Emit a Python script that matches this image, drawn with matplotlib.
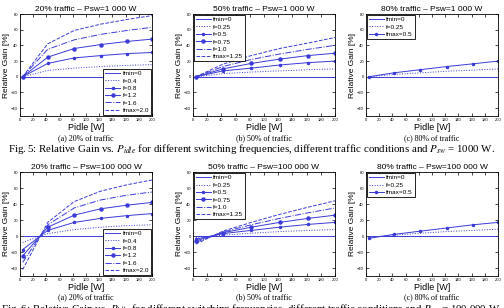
import matplotlib
matplotlib.use('Agg')
import matplotlib.pyplot as plt
import numpy as np

plt.rcParams['font.family'] = ['Liberation Sans', 'DejaVu Sans']
plt.rcParams['mathtext.fontset'] = 'stix'

# Pidle sample points [W]
pidle = [4, 42, 82, 122, 162, 200]

# Psw = 1 000 W
g20_1k = {
    'fmin=0':   [0, 0, 0, 0, 0, 0],
    'f=0.4':    [0, 8, 11, 13, 14.5, 15.5],
    'f=0.8':    [0, 17, 24, 27, 29.5, 31],
    'f=1.2':    [0, 25, 36, 41, 45, 48],
    'f=1.6':    [0, 35, 47, 54, 59, 63],
    'fmax=2.0': [0, 42, 59, 67, 73, 78],
}
g50_1k = {
    'fmin=0':    [0, 0, 0, 0, 0, 0],
    'f=0.25':    [0, 4, 6, 7.5, 9, 10],
    'f=0.5':     [0, 7.5, 11, 15, 18, 20],
    'f=0.75':    [0, 10, 17, 22.5, 27, 30],
    'f=1.0':     [0, 13, 22, 29, 35, 40],
    'fmax=1.25': [0, 16, 27, 36, 43, 50],
}
g80_1k = {
    'fmin=0':   [0, 0, 0, 0, 0, 0],
    'f=0.25':   [0, 3, 5, 7, 8.5, 10],
    'fmax=0.5': [0, 5, 9, 13, 16.5, 20],
}

# Psw = 100 000 W
g20_100k = {
    'fmin=0':   [0, 0, 0, 0, 0, 0],
    'f=0.4':    [-8, 3, 8, 11, 13, 14],
    'f=0.8':    [-17, 7, 17, 22, 25.5, 28],
    'f=1.2':    [-25, 11, 26, 34, 38.5, 42],
    'f=1.6':    [-33, 14, 35, 45, 51, 55],
    'fmax=2.0': [-42, 17, 43, 56, 64, 70],
}
g50_100k = {
    'fmin=0':    [0, 0, 0, 0, 0, 0],
    'f=0.25':    [-2, 1, 3.5, 5.5, 7, 8],
    'f=0.5':     [-4, 3, 7, 11, 14.5, 17],
    'f=0.75':    [-6, 4, 11, 17, 22, 26],
    'f=1.0':     [-8, 5, 14, 22, 29, 35],
    'fmax=1.25': [-10, 6, 17, 27, 36, 44],
}
g80_100k = {
    'fmin=0':   [0, 0, 0, 0, 0, 0],
    'f=0.25':   [-1.5, 1, 3.5, 5.5, 7, 8.5],
    'fmax=0.5': [-3, 2, 6, 10, 14, 17],
}

# line styles in the order the curves appear
styles6 = [dict(ls='-', marker=None), dict(ls=':', marker=None),
           dict(ls='-', marker='.', ms=3), dict(ls='-', marker='o', ms=2.2),
           dict(ls='-.', marker=None), dict(ls='--', marker=None)]
styles3 = [dict(ls='-', marker=None), dict(ls=':', marker=None),
           dict(ls='-', marker='.', ms=3)]

blue = '#3a3ad8'

W, H = 504, 308
fig = plt.figure(figsize=(W / 100, H / 100), dpi=100)


def px_axes(x0, x1, y0, y1):
    return fig.add_axes([x0 / W, 1 - y1 / H, (x1 - x0) / W, (y1 - y0) / H])


def panel(ax, data, title, loc):
    st = styles6 if len(data) == 6 else styles3
    for (name, vals), s in zip(data.items(), st):
        ax.plot(pidle, vals, color=blue, lw=0.7, label=name, **s)
    ax.set_xlim(0, 200)
    ax.set_ylim(-50, 80)
    ax.set_xticks(np.arange(0, 201, 20))
    ax.set_yticks(np.arange(-40, 81, 20))
    ax.tick_params(direction='in', length=2, width=0.5, labelsize=3,
                   top=True, right=True, pad=1.5)
    for sp in ax.spines.values():
        sp.set_linewidth(0.6)
    ax.set_title(title, fontsize=6, pad=2.5)
    ax.set_xlabel('Pidle [W]', fontsize=6.5, labelpad=1)
    ax.set_ylabel('Relative Gain [%]', fontsize=6, labelpad=1)
    leg = ax.legend(loc=loc, fontsize=4.6, handlelength=2.3, labelspacing=0.3,
                    borderaxespad=0.15, borderpad=0.3, handletextpad=0.4,
                    fancybox=False, framealpha=1, edgecolor='black')
    leg.get_frame().set_linewidth(0.6)


cols = [(20, 152), (193, 335), (366, 498)]
rows = [(14, 116), (172, 276)]
letters = ['(a) 20% of traffic', '(b) 50% of traffic', '(c) 80% of traffic']

row_data = [
    [(g20_1k, '20% traffic \u2013 Psw=1 000 W', 'lower right'),
     (g50_1k, '50% traffic \u2013 Psw=1 000 W', 'upper left'),
     (g80_1k, '80% traffic \u2013 Psw=1 000 W', 'upper left')],
    [(g20_100k, '20% traffic \u2013 Psw=100 000 W', 'lower right'),
     (g50_100k, '50% traffic \u2013 Psw=100 000 W', 'upper left'),
     (g80_100k, '80% traffic \u2013 Psw=100 000 W', 'upper left')],
]

cap_y = [138, 297]
for r, (y0, y1) in enumerate(rows):
    for c, (x0, x1) in enumerate(cols):
        ax = px_axes(x0, x1, y0, y1)
        d, t, loc = row_data[r][c]
        panel(ax, d, t, loc)
        fig.text((x0 + x1) / 2 / W, 1 - cap_y[r] / H, letters[c],
                 ha='center', va='center', fontsize=5.8, family='Liberation Serif')

fig.text(0.5, 1 - 149.5 / H,
         'Fig. 5: Relative Gain vs. $P_{idle}$ for different switching frequencies, '
         'different traffic conditions and $P_{sw}$ = 1000 W.',
         ha='center', va='center', fontsize=7.8, family='Liberation Serif')
fig.text(0.5, 1 - 308.5 / H,
         'Fig. 6: Relative Gain vs. $P_{idle}$ for different switching frequencies, '
         'different traffic conditions and $P_{sw}$ = 100 000 W.',
         ha='center', va='center', fontsize=7.8, family='Liberation Serif')

fig.savefig('out.png', dpi=100)
